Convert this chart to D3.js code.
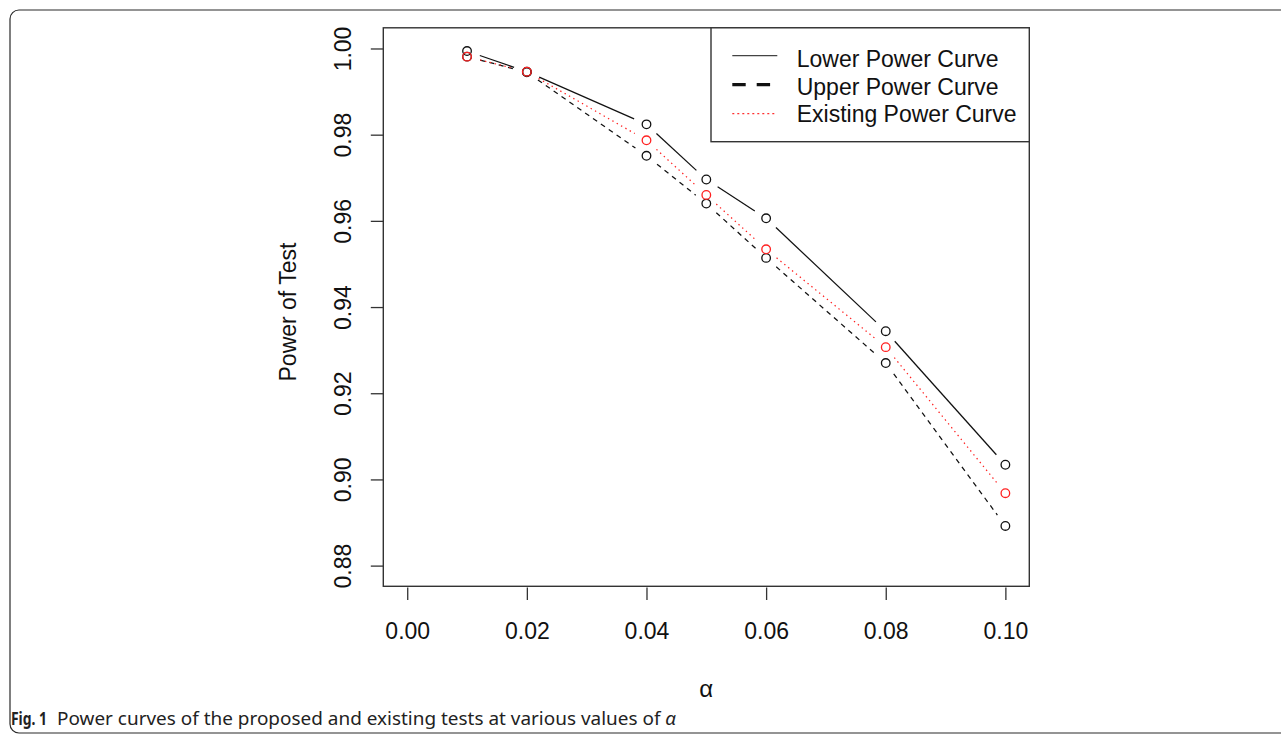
<!DOCTYPE html>
<html>
<head>
<meta charset="utf-8">
<script src="https://cdn.jsdelivr.net/npm/d3@7"></script>
<style>
  html, body { margin: 0; padding: 0; background: #fff; }
  svg { display: block; }
</style>
</head>
<body>
<svg id="chart" width="1281" height="734"></svg>
<script>
// ---- data ----
const alphaValues   = [0.01, 0.02, 0.04, 0.05, 0.06, 0.08, 0.10];
const lowerPower    = [0.9994, 0.9946, 0.9824, 0.9696, 0.9606, 0.9344, 0.9034];
const upperPower    = [0.9981, 0.9945, 0.9751, 0.9640, 0.9514, 0.9270, 0.8892];
const existingPower = [0.9981, 0.9946, 0.9787, 0.9660, 0.9534, 0.9307, 0.8968];
const xTicks = [0.00, 0.02, 0.04, 0.06, 0.08, 0.10];
const yTicks = [0.88, 0.90, 0.92, 0.94, 0.96, 0.98, 1.00];
const seriesNames = ["Lower Power Curve", "Upper Power Curve", "Existing Power Curve"];
const xTitle = "α";
const yTitle = "Power of Test";
const captionBold = "Fig. 1";
const captionText = "Power curves of the proposed and existing tests at various values of ";
const captionItalic = "α";

// ---- layout ----
const svg = d3.select("#chart");
const box = { left: 383.3, right: 1029.3, top: 27.8, bottom: 586.3 };
const x = d3.scaleLinear().domain([-0.004, 0.104]).range([box.left, box.right]);
const y = d3.scaleLinear().domain([0.8752, 1.0048]).range([box.bottom, box.top]);
const font = "'Liberation Sans', Arial, sans-serif";

// outer figure frame
svg.append("rect")
  .attr("x", 10).attr("y", 10).attr("width", 1320).attr("height", 723)
  .attr("rx", 9).attr("ry", 9)
  .attr("fill", "none").attr("stroke", "#2a2a2a").attr("stroke-width", 1.2);

// plot box
svg.append("rect")
  .attr("x", box.left).attr("y", box.top)
  .attr("width", box.right - box.left).attr("height", box.bottom - box.top)
  .attr("fill", "none").attr("stroke", "#333").attr("stroke-width", 1.4);

// y axis
const yAxis = svg.append("g")
  .attr("transform", `translate(${box.left},0)`)
  .call(d3.axisLeft(y).tickValues(yTicks).tickFormat(d3.format(".2f")).tickSize(12.5));
yAxis.select(".domain").remove();
yAxis.selectAll(".tick line").attr("stroke", "#333").attr("stroke-width", 1.3);
yAxis.selectAll(".tick text")
  .attr("transform", "rotate(-90)")
  .attr("x", 0).attr("y", -32).attr("dy", 0)
  .attr("text-anchor", "middle")
  .attr("fill", "#111")
  .style("font-family", font).style("font-size", "23px");

// x axis
const xAxis = svg.append("g")
  .attr("transform", `translate(0,${box.bottom + 1.2})`)
  .call(d3.axisBottom(x).tickValues(xTicks).tickFormat(d3.format(".2f")).tickSize(12.5));
xAxis.select(".domain").remove();
xAxis.selectAll(".tick line").attr("stroke", "#333").attr("stroke-width", 1.3);
xAxis.selectAll(".tick text")
  .attr("y", 51).attr("dy", 0)
  .attr("fill", "#111")
  .style("font-family", font).style("font-size", "23px");

// axis titles
svg.append("text")
  .attr("x", (box.left + box.right) / 2).attr("y", 697)
  .attr("text-anchor", "middle").attr("fill", "#111")
  .style("font-family", font).style("font-size", "24px")
  .text(xTitle);
svg.append("text")
  .attr("transform", `translate(296,${(box.top + box.bottom) / 2 + 5}) rotate(-90)`)
  .attr("text-anchor", "middle").attr("fill", "#111")
  .style("font-family", font).style("font-size", "23px")
  .text(yTitle);

// ---- series ----
const series = [
  { name: seriesNames[0], values: lowerPower,    color: "#111",    dash: null,      pt: "#111" },
  { name: seriesNames[1], values: upperPower,    color: "#111",    dash: "5,4.6",   pt: "#111" },
  { name: seriesNames[2], values: existingPower, color: "#ff2020", dash: "1.4,3.6", pt: "#ff2020" }
];
const gap = 13.5; // R type="b" gap around points

series.forEach(s => {
  const pts = alphaValues.map((a, i) => [x(a), y(s.values[i])]);
  const g = svg.append("g");
  for (let i = 0; i < pts.length - 1; i++) {
    const [x0, y0] = pts[i], [x1, y1] = pts[i + 1];
    const len = Math.hypot(x1 - x0, y1 - y0);
    if (len <= 2 * gap) continue;
    const ux = (x1 - x0) / len, uy = (y1 - y0) / len;
    g.append("line")
      .attr("x1", x0 + ux * gap).attr("y1", y0 + uy * gap)
      .attr("x2", x1 - ux * gap).attr("y2", y1 - uy * gap)
      .attr("stroke", s.color).attr("stroke-width", 1.25)
      .attr("stroke-dasharray", s.dash);
  }
  g.selectAll("circle").data(pts).join("circle")
    .attr("cx", d => d[0]).attr("cy", d => d[1]).attr("r", 4.3)
    .attr("fill", "none").attr("stroke", s.pt).attr("stroke-width", 1.3);
});

// ---- legend ----
const lg = svg.append("g");
lg.append("rect")
  .attr("x", 711).attr("y", box.top)
  .attr("width", box.right - 711).attr("height", 141.7 - box.top)
  .attr("fill", "#fff").attr("stroke", "#333").attr("stroke-width", 1.4);
const legendStyles = [
  { w: 1.3, dash: null, color: "#444" },
  { w: 3.2, dash: "13.4,11", color: "#111" },
  { w: 1.3, dash: "2,3", color: "#ff3030" }
];
const rowLineY = [55.7, 84.7, 113.7];
const rowTextY = [67.3, 94.5, 121.7];
seriesNames.forEach((nm, i) => {
  lg.append("line")
    .attr("x1", 732.3).attr("x2", 777.3)
    .attr("y1", rowLineY[i]).attr("y2", rowLineY[i])
    .attr("stroke", legendStyles[i].color)
    .attr("stroke-width", legendStyles[i].w)
    .attr("stroke-dasharray", legendStyles[i].dash);
  lg.append("text")
    .attr("x", 796.7).attr("y", rowTextY[i])
    .attr("fill", "#111")
    .style("font-family", font).style("font-size", "23px")
    .text(nm);
});

// ---- caption ----
const capFont = "'Noto Sans', 'Open Sans', sans-serif";
svg.append("text")
  .attr("x", 11).attr("y", 725)
  .attr("fill", "#222")
  .attr("textLength", 36).attr("lengthAdjust", "spacingAndGlyphs")
  .style("font-family", "'Liberation Sans Narrow', 'Noto Sans', sans-serif")
  .style("font-size", "18px").style("font-weight", "bold")
  .text(captionBold);
const capRest = svg.append("text")
  .attr("x", 57).attr("y", 725)
  .attr("fill", "#222")
  .attr("textLength", 619).attr("lengthAdjust", "spacingAndGlyphs")
  .style("font-family", capFont).style("font-size", "18px");
capRest.append("tspan").text(captionText);
capRest.append("tspan").style("font-style", "italic").text(captionItalic);
</script>
</body>
</html>
